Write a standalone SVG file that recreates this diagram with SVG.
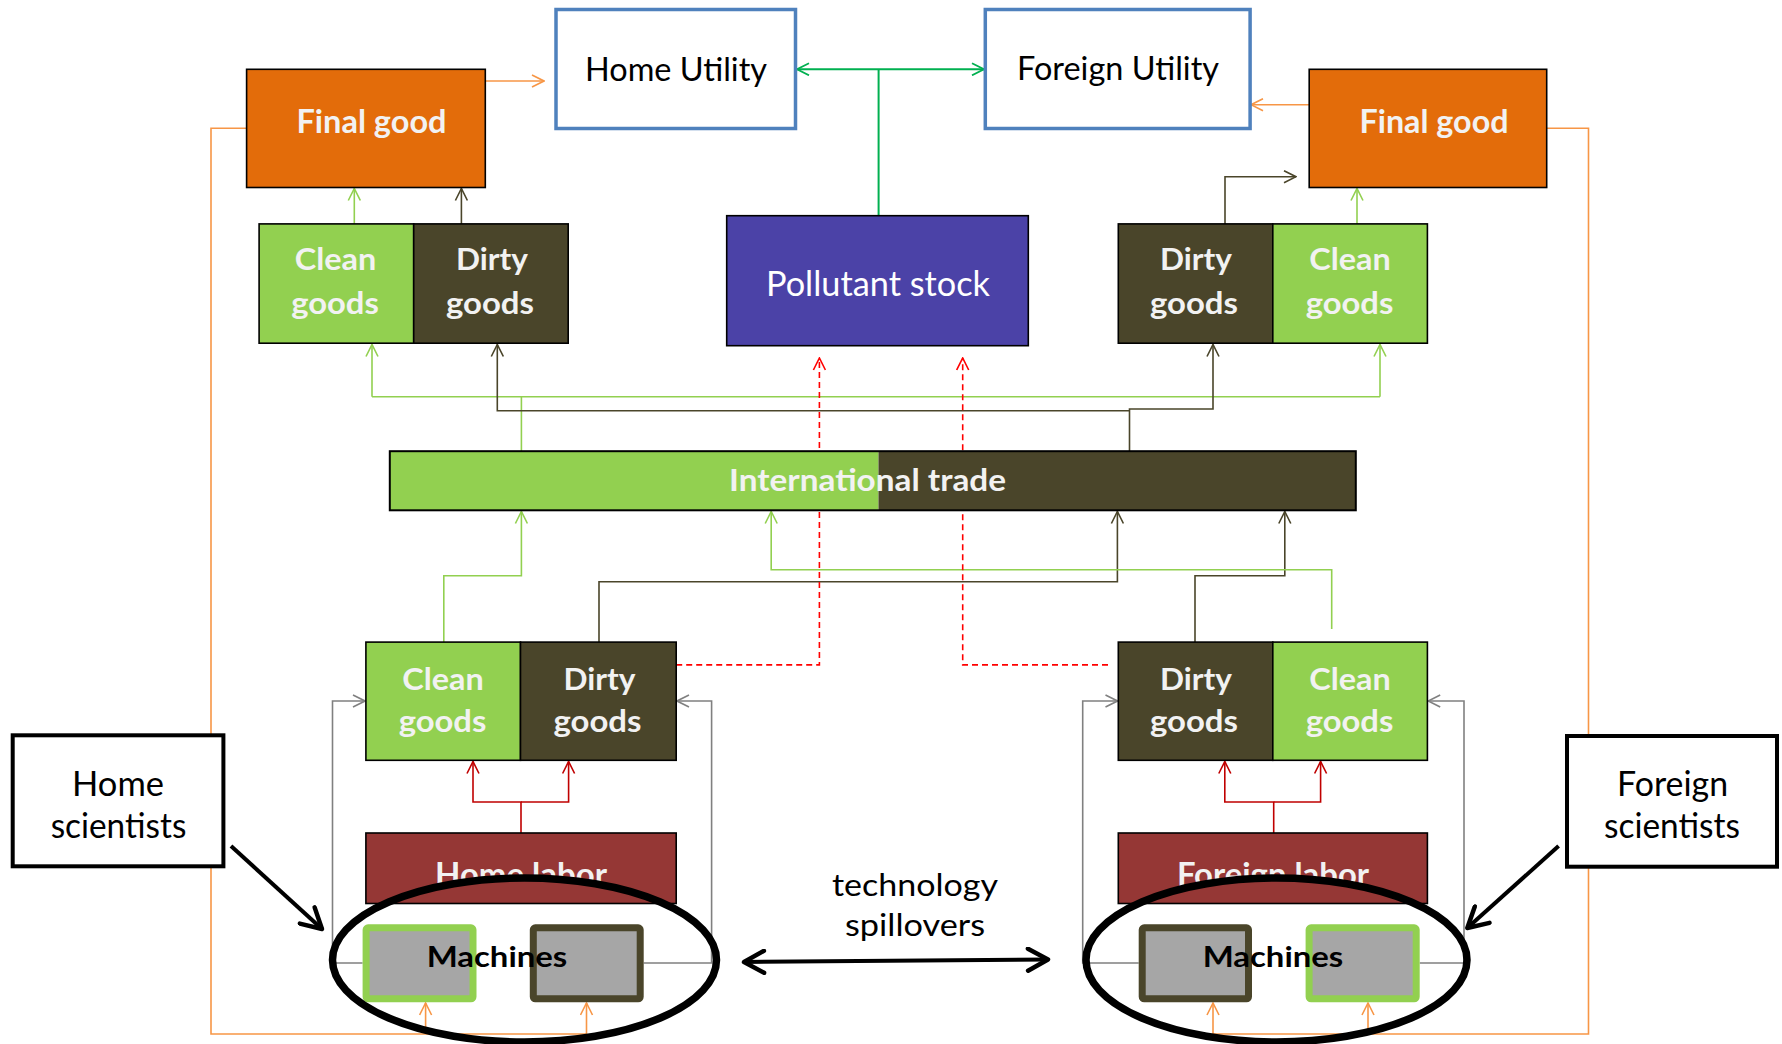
<svg xmlns="http://www.w3.org/2000/svg" width="1782" height="1044" viewBox="0 0 1782 1044">
<style>
.box{stroke:#000;stroke-width:1.6}
.util{fill:#fff;stroke:#4F81BD;stroke-width:3.5}
.clean{fill:#92D050}
.dirty{fill:#4A452A}
.orange{fill:#E36C0A}
.labor{fill:#953735}
.wt{font-family:Lato,"Open Sans","Liberation Sans",sans-serif;font-weight:bold;fill:#F2F2F2;text-anchor:middle}
.bt{font-family:Lato,"Open Sans","Liberation Sans",sans-serif;fill:#000;text-anchor:middle}
.c{fill:none;stroke-width:1.6}
.cOr{stroke:#F79646}
.cGl{stroke:#92D050}
.cDk{stroke:#4A452A}
.cRd{stroke:#C00000}
.cRdd{stroke:#FF0000;stroke-dasharray:6,4}
.cGu{stroke:#00B050;stroke-width:2}
.cGy{stroke:#808080}
.cBk{fill:none;stroke:#000;stroke-width:4}
.ell{fill:none;stroke:#000;stroke-width:7.5}
.mach{fill:#A6A6A6;stroke-width:7}
</style>
<defs>
<marker id="mOr" viewBox="0 0 14 14" refX="13" refY="7" markerWidth="14" markerHeight="14" markerUnits="userSpaceOnUse" orient="auto"><path d="M1,1 L13,7 L1,13" fill="none" stroke="#F79646" stroke-width="1.6"/></marker>
<marker id="mGl" viewBox="0 0 14 14" refX="13" refY="7" markerWidth="14" markerHeight="14" markerUnits="userSpaceOnUse" orient="auto"><path d="M1,1 L13,7 L1,13" fill="none" stroke="#92D050" stroke-width="1.6"/></marker>
<marker id="mDk" viewBox="0 0 14 14" refX="13" refY="7" markerWidth="14" markerHeight="14" markerUnits="userSpaceOnUse" orient="auto"><path d="M1,1 L13,7 L1,13" fill="none" stroke="#4A452A" stroke-width="1.6"/></marker>
<marker id="mRd" viewBox="0 0 14 14" refX="13" refY="7" markerWidth="14" markerHeight="14" markerUnits="userSpaceOnUse" orient="auto"><path d="M1,1 L13,7 L1,13" fill="none" stroke="#C00000" stroke-width="1.6"/></marker>
<marker id="mRdd" viewBox="0 0 14 14" refX="13" refY="7" markerWidth="14" markerHeight="14" markerUnits="userSpaceOnUse" orient="auto"><path d="M1,1 L13,7 L1,13" fill="none" stroke="#FF0000" stroke-width="1.6"/></marker>
<marker id="mGu" viewBox="0 0 14 14" refX="13" refY="7" markerWidth="14" markerHeight="14" markerUnits="userSpaceOnUse" orient="auto-start-reverse"><path d="M1,1 L13,7 L1,13" fill="none" stroke="#00B050" stroke-width="1.8"/></marker>
<marker id="mGy" viewBox="0 0 14 14" refX="13" refY="7" markerWidth="14" markerHeight="14" markerUnits="userSpaceOnUse" orient="auto"><path d="M1,1 L13,7 L1,13" fill="none" stroke="#808080" stroke-width="1.6"/></marker>
<marker id="mBk" viewBox="0 0 26 26" refX="23" refY="13" markerWidth="26" markerHeight="26" markerUnits="userSpaceOnUse" orient="auto-start-reverse"><path d="M3,2 L23,13 L3,24" fill="none" stroke="#000" stroke-width="4.5" stroke-linecap="round" stroke-linejoin="round"/></marker>
<clipPath id="clipHome"><path clip-rule="evenodd" d="M0,0 H1782 V1044 H0 Z M332.5,960 a192,82 0 1,0 384,0 a192,82 0 1,0 -384,0 Z"/></clipPath>
<clipPath id="clipForeign"><path clip-rule="evenodd" d="M0,0 H1782 V1044 H0 Z M1086,960 a190.5,82 0 1,0 381,0 a190.5,82 0 1,0 -381,0 Z"/></clipPath>
</defs>
<rect x="0" y="0" width="1782" height="1044" fill="#fff"/>

<g id="connectors">
  <path class="c cOr" d="M485.3,81 H544" marker-end="url(#mOr)"/>
  <path class="c cOr" d="M1309,104.7 H1251" marker-end="url(#mOr)"/>
  <path class="c cGu" d="M797,69.3 H984" marker-start="url(#mGu)" marker-end="url(#mGu)"/>
  <path class="c cGu" d="M878.6,215.7 V69.3"/>
  <path class="c cOr" d="M246.6,128.3 H211 V1034 H586.5 V1003" marker-end="url(#mOr)"/>
  <path class="c cOr" d="M425.6,1034 V1003" marker-end="url(#mOr)"/>
  <path class="c cOr" d="M1546.7,128.3 H1588.5 V1034 H1213 V1003" marker-end="url(#mOr)"/>
  <path class="c cOr" d="M1368,1034 V1003" marker-end="url(#mOr)"/>
  <path class="c cGl" d="M354.3,224 V188.5" marker-end="url(#mGl)"/>
  <path class="c cDk" d="M461.4,224 V188.5" marker-end="url(#mDk)"/>
  <path class="c cGl" d="M1357,224 V188.5" marker-end="url(#mGl)"/>
  <path class="c cDk" d="M1225,224 V176.7 H1296" marker-end="url(#mDk)"/>
  <path class="c cGl" d="M521.4,451 V396.7"/>
  <path class="c cGl" d="M372,396.7 H1380"/>
  <path class="c cGl" d="M372,396.7 V344.5" marker-end="url(#mGl)"/>
  <path class="c cGl" d="M1380,396.7 V344.5" marker-end="url(#mGl)"/>
  <path class="c cDk" d="M1129.5,451 V409 H1213 V344.5" marker-end="url(#mDk)"/>
  <path class="c cDk" d="M1129.5,410.7 H497.3 V344.5" marker-end="url(#mDk)"/>
  <path class="c cGl" d="M443.8,642 V575.7 H521.4 V511.5" marker-end="url(#mGl)"/>
  <path class="c cDk" d="M599,642 V581.7 H1117.4 V511.5" marker-end="url(#mDk)"/>
  <path class="c cDk" d="M1195,642 V575.7 H1284.8 V511.5" marker-end="url(#mDk)"/>
  <path class="c cGl" d="M1331.7,629 V569.7 H771.2 V511.5" marker-end="url(#mGl)"/>
  <path class="c cRdd" d="M676.2,664.9 H819.4 V358" marker-end="url(#mRdd)"/>
  <path class="c cRdd" d="M1108,664.9 H962.7 V358" marker-end="url(#mRdd)"/>
  <path class="c cRd" d="M521,833 V802 H473 V761.5" marker-end="url(#mRd)"/>
  <path class="c cRd" d="M521,802 H568.6 V761.5" marker-end="url(#mRd)"/>
  <path class="c cRd" d="M1273.7,833 V802 H1224.8 V761.5" marker-end="url(#mRd)"/>
  <path class="c cRd" d="M1273.7,802 H1320.6 V761.5" marker-end="url(#mRd)"/>
  <path class="c cGy" d="M362.6,963 H332.5 V701 H365" marker-end="url(#mGy)"/>
  <path class="c cGy" d="M643.7,963 H711.6 V701 H677" marker-end="url(#mGy)"/>
  <path class="c cGy" d="M1138.7,963 H1082.7 V701 H1117.5" marker-end="url(#mGy)"/>
  <path class="c cGy" d="M1419.7,963 H1464 V701 H1428.2" marker-end="url(#mGy)"/>
  <path class="cBk" d="M231,846 L322,929" marker-end="url(#mBk)"/>
  <path class="cBk" d="M1558.6,846 L1467.3,928" marker-end="url(#mBk)"/>
  <path class="cBk" d="M744,962 L1048,959.5" marker-start="url(#mBk)" marker-end="url(#mBk)"/>
</g>

<g id="home-utility">
  <rect class="util" x="556" y="9.5" width="239.5" height="119"/>
  <text class="bt" x="676" y="81" font-size="32" textLength="182" lengthAdjust="spacingAndGlyphs">Home Utility</text>
</g>
<g id="foreign-utility">
  <rect class="util" x="985.3" y="9.5" width="264.8" height="119"/>
  <text class="bt" x="1118" y="80" font-size="32" textLength="202" lengthAdjust="spacingAndGlyphs">Foreign Utility</text>
</g>
<g id="home-final-good">
  <rect class="box orange" x="246.6" y="69.3" width="238.7" height="118.2"/>
  <text class="wt" x="371.5" y="133.3" font-size="33" textLength="150" lengthAdjust="spacingAndGlyphs">Final good</text>
</g>
<g id="foreign-final-good">
  <rect class="box orange" x="1309.2" y="69.3" width="237.5" height="118.2"/>
  <text class="wt" x="1434" y="133.3" font-size="33" textLength="149" lengthAdjust="spacingAndGlyphs">Final good</text>
</g>
<g id="home-clean-goods">
  <rect class="box clean" x="259.1" y="223.9" width="154.6" height="119.3"/>
  <text class="wt" x="335.5" y="270" font-size="30" textLength="81.5" lengthAdjust="spacingAndGlyphs">Clean</text>
  <text class="wt" x="335" y="314" font-size="30" textLength="87.7" lengthAdjust="spacingAndGlyphs">goods</text>
</g>
<g id="home-dirty-goods">
  <rect class="box dirty" x="413.7" y="223.9" width="154.5" height="119.3"/>
  <text class="wt" x="492" y="270" font-size="30" textLength="72" lengthAdjust="spacingAndGlyphs">Dirty</text>
  <text class="wt" x="490" y="314" font-size="30" textLength="88" lengthAdjust="spacingAndGlyphs">goods</text>
</g>
<g id="pollutant-stock">
  <rect class="box" x="726.7" y="215.7" width="301.6" height="130" fill="#4B42A7" stroke-width="2.2"/>
  <text x="878" y="296" font-family="Lato,'Open Sans','Liberation Sans',sans-serif" font-size="35" fill="#FFFFFF" text-anchor="middle" textLength="224" lengthAdjust="spacingAndGlyphs">Pollutant stock</text>
</g>
<g id="foreign-dirty-goods">
  <rect class="box dirty" x="1118.3" y="223.9" width="154.5" height="119.3"/>
  <text class="wt" x="1196" y="270" font-size="30" textLength="72" lengthAdjust="spacingAndGlyphs">Dirty</text>
  <text class="wt" x="1194" y="314" font-size="30" textLength="88" lengthAdjust="spacingAndGlyphs">goods</text>
</g>
<g id="foreign-clean-goods">
  <rect class="box clean" x="1272.8" y="223.9" width="154.6" height="119.3"/>
  <text class="wt" x="1350" y="270" font-size="30" textLength="81.5" lengthAdjust="spacingAndGlyphs">Clean</text>
  <text class="wt" x="1349.5" y="314" font-size="30" textLength="87.7" lengthAdjust="spacingAndGlyphs">goods</text>
</g>
<g id="international-trade">
  <rect class="clean" x="389.8" y="451.2" width="488.7" height="59.1"/>
  <rect class="dirty" x="878.5" y="451.2" width="477.3" height="59.1"/>
  <rect x="389.8" y="451.2" width="966" height="59.1" fill="none" stroke="#000" stroke-width="2"/>
  <text class="wt" x="867.5" y="491" font-size="31" textLength="277" lengthAdjust="spacingAndGlyphs">International trade</text>
</g>
<g id="home-clean-goods-prod">
  <rect class="box clean" x="365.9" y="642.1" width="154.6" height="118.2"/>
  <text class="wt" x="443" y="689.5" font-size="30" textLength="81.5" lengthAdjust="spacingAndGlyphs">Clean</text>
  <text class="wt" x="442.5" y="732" font-size="30" textLength="87.7" lengthAdjust="spacingAndGlyphs">goods</text>
</g>
<g id="home-dirty-goods-prod">
  <rect class="box dirty" x="520.5" y="642.1" width="155.7" height="118.2"/>
  <text class="wt" x="599.5" y="689.5" font-size="30" textLength="72" lengthAdjust="spacingAndGlyphs">Dirty</text>
  <text class="wt" x="597.5" y="732" font-size="30" textLength="88" lengthAdjust="spacingAndGlyphs">goods</text>
</g>
<g id="foreign-dirty-goods-prod">
  <rect class="box dirty" x="1118.3" y="642.1" width="154.5" height="118.2"/>
  <text class="wt" x="1196" y="689.5" font-size="30" textLength="72" lengthAdjust="spacingAndGlyphs">Dirty</text>
  <text class="wt" x="1194" y="732" font-size="30" textLength="88" lengthAdjust="spacingAndGlyphs">goods</text>
</g>
<g id="foreign-clean-goods-prod">
  <rect class="box clean" x="1272.8" y="642.1" width="154.6" height="118.2"/>
  <text class="wt" x="1350" y="689.5" font-size="30" textLength="81.5" lengthAdjust="spacingAndGlyphs">Clean</text>
  <text class="wt" x="1349.5" y="732" font-size="30" textLength="87.7" lengthAdjust="spacingAndGlyphs">goods</text>
</g>
<g id="home-labor">
  <rect class="box labor" x="365.9" y="833" width="310.3" height="70.5"/>
  <text class="wt" x="521" y="886" font-size="32" textLength="172" lengthAdjust="spacingAndGlyphs" clip-path="url(#clipHome)">Home labor</text>
</g>
<g id="foreign-labor">
  <rect class="box labor" x="1118.3" y="833" width="309.1" height="70.5"/>
  <text class="wt" x="1273" y="886" font-size="32" textLength="192" lengthAdjust="spacingAndGlyphs" clip-path="url(#clipForeign)">Foreign labor</text>
</g>
<g id="home-machines">
  <rect class="mach" x="366.1" y="927.8" width="106.9" height="71" rx="2" stroke="#92D050"/>
  <rect class="mach" x="533.3" y="927.8" width="106.9" height="71" rx="2" stroke="#4A452A"/>
  <ellipse class="ell" cx="524.5" cy="960" rx="192" ry="82"/>
  <text class="bt" x="497" y="967" font-size="29" font-weight="bold" textLength="140.5" lengthAdjust="spacingAndGlyphs">Machines</text>
</g>
<g id="foreign-machines">
  <rect class="mach" x="1142.2" y="927.8" width="106.3" height="71" rx="2" stroke="#4A452A"/>
  <rect class="mach" x="1309.1" y="927.8" width="107.1" height="71" rx="2" stroke="#92D050"/>
  <ellipse class="ell" cx="1276.5" cy="960" rx="190.5" ry="82"/>
  <text class="bt" x="1273" y="967" font-size="29" font-weight="bold" textLength="140.5" lengthAdjust="spacingAndGlyphs">Machines</text>
</g>
<g id="home-scientists">
  <rect x="12.7" y="735.3" width="210.7" height="131" fill="#fff" stroke="#000" stroke-width="4"/>
  <text class="bt" x="118" y="795.5" font-size="34" textLength="92" lengthAdjust="spacingAndGlyphs">Home</text>
  <text class="bt" x="118.5" y="837.5" font-size="34" textLength="135.7" lengthAdjust="spacingAndGlyphs">scientists</text>
</g>
<g id="foreign-scientists">
  <rect x="1567" y="736" width="210" height="130.7" fill="#fff" stroke="#000" stroke-width="4"/>
  <text class="bt" x="1672.6" y="795.5" font-size="34" textLength="111" lengthAdjust="spacingAndGlyphs">Foreign</text>
  <text class="bt" x="1672" y="837.5" font-size="34" textLength="136" lengthAdjust="spacingAndGlyphs">scientists</text>
</g>
<g id="spillovers-label">
  <text class="bt" x="915" y="895.5" font-size="31" textLength="166" lengthAdjust="spacingAndGlyphs">technology</text>
  <text class="bt" x="915" y="936" font-size="31" textLength="140" lengthAdjust="spacingAndGlyphs">spillovers</text>
</g>
</svg>
